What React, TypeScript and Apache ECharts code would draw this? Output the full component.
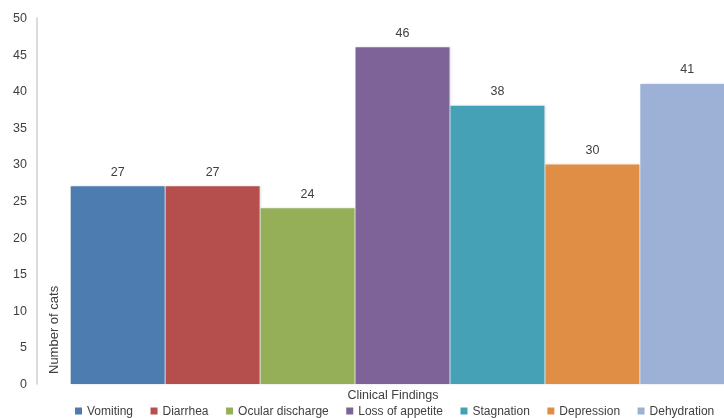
import React, { useEffect, useRef } from "react";
import * as echarts from "echarts";

const findings = ["Vomiting", "Diarrhea", "Ocular discharge", "Loss of appetite", "Stagnation", "Depression", "Dehydration"];
const counts = [27, 27, 24, 46, 38, 30, 41];
const colors = ["#4E7CB0", "#B4504E", "#95AE58", "#7E6399", "#44A1B5", "#E08E45", "#9DB1D6"];
const yTicks = { min: 0, max: 50, interval: 5 };

const FONT = "'Liberation Sans', Arial, sans-serif";

export default function App() {
  const ref = useRef<HTMLDivElement>(null);
  useEffect(() => {
    document.body.style.overflow = "hidden";
    if (!ref.current) return;
    const chart = echarts.init(ref.current, undefined, { renderer: "svg" });
    chart.setOption({
      animation: false,
      textStyle: { fontFamily: FONT },
      grid: { left: 37, right: 0, top: 18, bottom: 34, containLabel: false },
      legend: {
        data: findings,
        left: 75,
        top: 405,
        width: 740,
        padding: 0,
        itemWidth: 7,
        itemHeight: 7,
        itemGap: 17.5,
        icon: "rect",
        textStyle: { fontSize: 12, color: "#404040", fontFamily: FONT },
      },
      xAxis: {
        type: "category",
        data: ["Clinical Findings"],
        axisLine: { show: false },
        axisTick: { show: false },
        axisLabel: { show: false },
      },
      yAxis: {
        type: "value",
        min: yTicks.min,
        max: yTicks.max,
        interval: yTicks.interval,
        splitLine: { show: false },
        axisLine: { show: true, lineStyle: { color: "#D0D0D0", width: 1.5 } },
        axisTick: { show: false },
        axisLabel: { color: "#404040", fontSize: 12.5, margin: 10, fontFamily: FONT },
      },
      graphic: [
        {
          type: "text",
          x: 53,
          y: 374,
          z: 100,
          rotation: Math.PI / 2,
          style: { text: "Number of cats", fill: "#404040", fontSize: 13, fontFamily: FONT, textAlign: "left", textVerticalAlign: "middle" },
        },
        {
          type: "text",
          x: 393,
          y: 395,
          z: 100,
          style: { text: "Clinical Findings", fill: "#404040", fontSize: 12.5, fontFamily: FONT, textAlign: "center", textVerticalAlign: "middle" },
        },
      ],
      series: findings.map((name, i) => ({
        name,
        type: "bar",
        data: [counts[i]],
        barWidth: 94,
        barGap: "1%",
        itemStyle: { color: colors[i], shadowColor: "rgba(0,0,0,0.15)", shadowBlur: 2, shadowOffsetX: 1 },
        label: { show: true, position: "top", distance: 8, color: "#404040", fontSize: 12.5, fontFamily: FONT },
      })),
    });
    return () => chart.dispose();
  }, []);
  return <div ref={ref} style={{ position: "fixed", left: 0, top: 0, width: 768, height: 418 }} />;
}
